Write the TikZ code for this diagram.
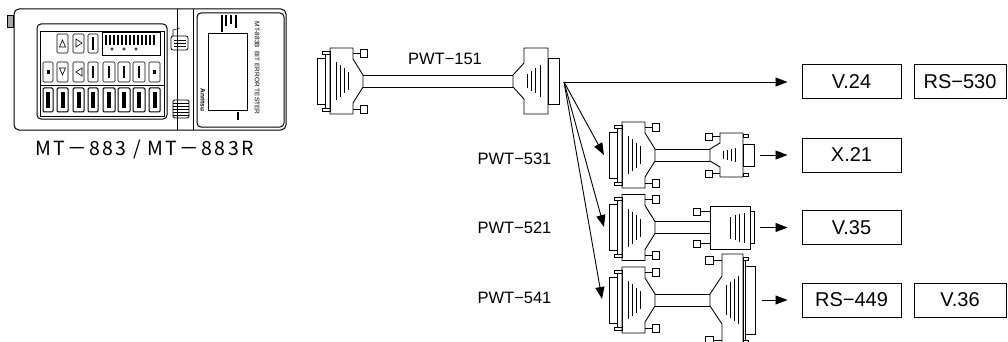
\documentclass[tikz,border=0pt]{standalone}
\usepackage{fontspec}
\setmainfont{Liberation Sans}
\newfontfamily\jpfont{Noto Sans CJK JP}[LetterSpace=12]
\usetikzlibrary{arrows.meta}
\tikzset{
  pwtlabel/.style={font=\fontsize{16.5}{18}\selectfont, inner sep=0pt},
  stdbox/.style={draw, line width=1pt, minimum height=34pt, inner sep=0pt, font=\fontsize{20}{22}\selectfont},
  arr/.style={line width=0.9pt, -{Triangle[length=12pt,width=9pt]}},
  keyc/.style={draw, line width=0.6pt, rounded corners=1.2pt},
  keyd/.style={draw, line width=1pt, rounded corners=1.2pt},
  db25/.pic={
    \draw (0,-23) rectangle (8,23);
    \draw (8,-27) rectangle (13,27);
    \draw (5,-30) rectangle (13,-27) (5,27) rectangle (13,30);
    \draw (13,-33) -- (36,-33) -- (36,-22) -- (46,-6) -- (46,6) -- (36,22) -- (36,33) -- (13,33) -- cycle;
    \draw (36,-28) -- (43,-28) (36,28) -- (43,28);
    \draw (43,-32) rectangle (50,-24) (43,24) rectangle (50,32);
    \draw (19,-19) -- (19,19) (23,-16) -- (23,16) (27,-12.5) -- (27,12.5) (31,-9) -- (31,9);
    \coordinate (-plug) at (0,0);
    \coordinate (-ct) at (46,-6);
    \coordinate (-cb) at (46,6);
  },
  db25f/.pic={
    \draw (0,-23) rectangle (11,23);
    \draw (11,-33) -- (35,-33) -- (35,-18) -- (46,-6) -- (46,6) -- (35,18) -- (35,33) -- (11,33) -- cycle;
    \draw (19,-16) -- (19,16) (23.5,-12.5) -- (23.5,12.5) (28,-10) -- (28,10) (32,-7) -- (32,7);
    \coordinate (-plug) at (0,0);
    \coordinate (-ct) at (46,-6);
    \coordinate (-cb) at (46,6);
  },
  db9/.pic={
    \draw (0,-11) rectangle (11,11);
    \draw (6,-21) rectangle (11,-18) (6,18) rectangle (11,21);
    \draw (11,-22) -- (34,-22) -- (34,-12) -- (44,-6) -- (44,6) -- (34,12) -- (34,22) -- (11,22) -- cycle;
    \draw (34,-18.5) -- (42,-18.5) (34,18.5) -- (42,18.5);
    \draw (42,-22) rectangle (49,-15) (42,15) rectangle (49,22);
    \draw (19,-7) -- (19,7) (23,-6) -- (23,6) (27,-5) -- (27,5) (31,-4) -- (31,4);
    \coordinate (-plug) at (0,0);
    \coordinate (-ct) at (44,-6);
    \coordinate (-cb) at (44,6);
  },
  db15/.pic={
    \draw (0,-16) rectangle (4,16);
    \draw (4,-21.5) rectangle (44,21.5);
    \draw (44,-16) -- (54,-16) (44,16) -- (54,16);
    \draw (54,-19.5) rectangle (61,-12.5) (54,12.5) rectangle (61,19.5);
    \draw (10,-15) -- (10,15) (14.5,-14) -- (14.5,14) (19,-12.5) -- (19,12.5) (23.5,-11) -- (23.5,11);
    \coordinate (-plug) at (0,0);
    \coordinate (-ct) at (44,-6);
    \coordinate (-cb) at (44,6);
  },
  db37/.pic={
    \draw (0,-34) rectangle (10,34);
    \draw (10,-40) rectangle (12,40);
    \draw (7,-43) rectangle (12,-40) (7,40) rectangle (12,43);
    \draw (12,-46) -- (33,-46) -- (33,-24) -- (45,-6) -- (45,6) -- (33,24) -- (33,46) -- (12,46) -- cycle;
    \draw (33,-40) -- (42,-40) (33,40) -- (42,40);
    \draw (42,-44) rectangle (50,-36) (42,36) rectangle (50,44);
    \draw (17,-24) -- (17,24) (21,-21) -- (21,21) (25,-18) -- (25,18) (29,-15) -- (29,15);
    \coordinate (-plug) at (0,0);
    \coordinate (-ct) at (45,-6);
    \coordinate (-cb) at (45,6);
  }
}
\begin{document}
\begin{tikzpicture}[x=1pt,y=-1pt,line width=0.9pt]
\fill[white] (0,0) rectangle (1008,342);
\clip (0,0) rectangle (1008,342);

% ---------- device MT-883 ----------
\draw[line width=1pt, rounded corners=5pt] (14,9) rectangle (286,130);
\fill[gray!70] (7,15) rectangle (13,27);
\draw[line width=0.6pt] (7,15) rectangle (13,27);
\draw[line width=0.8pt] (177,9) -- (177,130);
\draw[line width=0.8pt] (193,9) -- (193,130);
\draw[line width=1pt, rounded corners=4pt] (197,13) rectangle (284,127);
\draw[line width=0.9pt] (208,33) rectangle (247,110);
\foreach \x/\a in {222/24,226/18,231/16,236/20}{
  \fill (\x-0.8,15) rectangle (\x+0.8,\a+8);
}
\draw[line width=1.2pt] (238,112) -- (238,120);
\node[rotate=-90, font=\fontsize{6.5}{7}\selectfont, inner sep=0pt] (devtxt) at (257,68) {MT-883B\ \ BIT ERROR TESTER};
\node[rotate=-90, font=\bfseries\fontsize{6.5}{7}\selectfont, inner sep=0pt] (logo) at (203,100) {Anritsu};
% hanger
\draw[line width=0.8pt, rounded corners=2pt] (171,36) rectangle (188,50);
\draw[line width=0.6pt] (174,40) -- (186,40) (174,43) -- (186,43) (174,46) -- (186,46);
\draw[line width=0.6pt] (173,36) -- (173,30) -- (180,28);
% grill
\draw[line width=0.8pt, rounded corners=1.5pt] (173,100) rectangle (189,118);
\foreach \y in {103,106,109,112,115}{ \draw[line width=0.6pt] (173,\y) -- (189,\y); }
% keypad
\draw[line width=1pt, rounded corners=4pt] (37,24) rectangle (167,119);
\draw[line width=0.7pt] (40,31) rectangle (164,116);
\draw[line width=0.7pt] (40,85) -- (164,85);
\draw[line width=0.7pt] (102,32) rectangle (160,55);
\foreach \x in {106,110,114,118,122,126,130,134,138,142,146,150,154}{
  \fill (\x-0.6,35) rectangle (\x+0.6,45);
}
\foreach \x in {112,124,136}{ \draw[line width=0.5pt] (\x,49) circle (1.3); }
% row 1
\draw[keyc] (57,34) rectangle (68,53);
\draw[line width=0.6pt] (59.5,47) -- (65.5,47) -- (62.5,40) -- cycle;
\draw[keyc] (73,34) rectangle (84,53);
\draw[line width=0.6pt] (76,39) -- (76,47) -- (82,43) -- cycle;
\draw[keyc] (88,34) rectangle (98,53);
\fill (92,37) rectangle (94,50);
% row 2
\foreach \x/\w in {43/10,57/11,73/11,88/10,103/12,118/12,133/12,149/11}{
  \draw[keyc] (\x,62) rectangle (\x+\w,82);
}
\draw[line width=0.6pt] (59.5,68) -- (65.5,68) -- (62.5,75) -- cycle;
\draw[line width=0.6pt] (82,68) -- (82,76) -- (76,72) -- cycle;
\foreach \x/\w in {43/10,149/11}{ \fill (\x+\w/2-1.5,70) rectangle (\x+\w/2+1.5,74); }
\foreach \x/\w in {88/10,103/12,118/12,133/12}{ \fill (\x+\w/2-1.2,66) rectangle (\x+\w/2+1.2,78); }
% row 3
\foreach \x/\w in {43/10,57/11,73/11,88/10,103/12,118/12,133/12,149/11}{
  \draw[keyd] (\x,88) rectangle (\x+\w,112);
  \fill (\x+\w/2-2,92) rectangle (\x+\w/2+2,108);
}
\node[font=\jpfont\fontsize{19.5}{20}\selectfont, inner sep=0pt] (mtlabel) at (144.5,150) {MT－883 / MT－883R};

% ---------- PWT-151 ----------
\pic (p151l) at (317,81) {db25};
\pic[xscale=-1] (p151r) at (559,81) {db25f};
\draw (p151l-ct) -- (p151r-ct) (p151l-cb) -- (p151r-cb);
\node[pwtlabel] (l151) at (445,59) {PWT−151};

% ---------- second level cables ----------
\pic (p531l) at (609,155) {db25};
\pic[xscale=-1] (p531r) at (754,155) {db9};
\draw (p531l-ct) -- (p531r-ct) (p531l-cb) -- (p531r-cb);
\node[pwtlabel] (l531) at (514.5,159) {PWT−531};

\pic (p521l) at (609,227.5) {db25};
\pic[xscale=-1] (p521r) at (754,227.5) {db15};
\draw (p521l-ct) -- (p521r-ct) (p521l-cb) -- (p521r-cb);
\node[pwtlabel] (l521) at (514.5,227.5) {PWT−521};

\pic (p541l) at (609,300) {db25};
\pic[xscale=-1] (p541r) at (755,300) {db37};
\draw (p541l-ct) -- (p541r-ct) (p541l-cb) -- (p541r-cb);
\node[pwtlabel] (l541) at (514.5,297.5) {PWT−541};

% ---------- boxes ----------
\node[stdbox, minimum width=99pt] (v24) at (851.5,82) {V.24};
\node[stdbox, minimum width=92pt] (rs530) at (960,82) {RS−530};
\node[stdbox, minimum width=99pt] (x21) at (851.5,155) {X.21};
\node[stdbox, minimum width=99pt] (v35) at (851.5,227.5) {V.35};
\node[stdbox, minimum width=99pt] (rs449) at (851.5,300) {RS−449};
\node[stdbox, minimum width=92pt] (v36) at (960,300) {V.36};

% ---------- arrows ----------
\coordinate (hub) at (564,82);
\coordinate (t531) at (604,155);
\coordinate (t521) at (604,227);
\coordinate (t541) at (602,299);
\draw[arr, shorten >=14pt] (hub) -- (v24.west);
\draw[arr] (hub) -- (t531);
\draw[arr] (hub) -- (t521);
\draw[arr] (hub) -- (t541);
\draw[arr, shorten <=6pt, shorten >=14pt] (p531r-plug) -- (x21.west);
\draw[arr, shorten <=6pt, shorten >=14pt] (p521r-plug) -- (v35.west);
\draw[arr, shorten <=7pt, shorten >=14pt] (p541r-plug) -- (rs449.west);
\end{tikzpicture}
\end{document}
